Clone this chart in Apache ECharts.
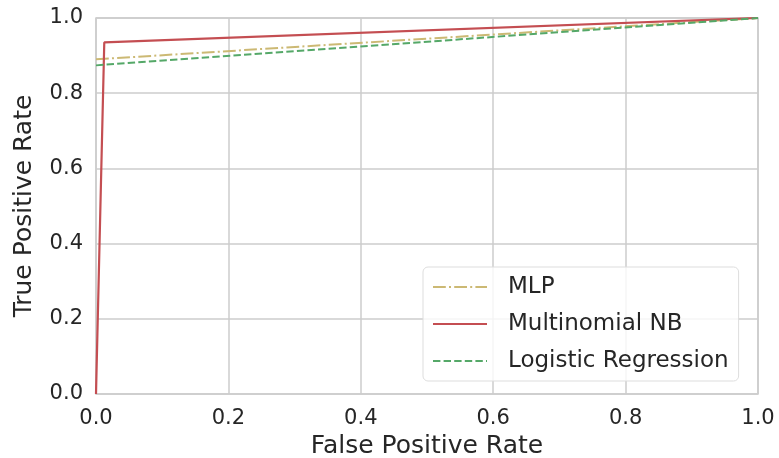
<!DOCTYPE html>
<html>
<head>
<meta charset="utf-8">
<script src="https://cdn.jsdelivr.net/npm/echarts@6/dist/echarts.min.js"></script>
<style>
  html, body { margin: 0; padding: 0; background: #fff; }
  #chart { width: 779px; height: 458px; }
</style>
</head>
<body>
<div id="chart"></div>
<script>
// 数据：ROC 曲线的点 [FPR, TPR]
var seriesNames = ['MLP', 'Multinomial NB', 'Logistic Regression'];
var mlpPoints = [[0, 0.89], [1, 1]];
var nbPoints = [[0, 0], [0.0125, 0.935], [1, 1]];
var lrPoints = [[0, 0.874], [1, 1]];
var tickValues = [0, 0.2, 0.4, 0.6, 0.8, 1.0];

var chart = echarts.init(document.getElementById('chart'));
var font = 'DejaVu Sans';
var textColor = '#262626';

var option = {
  animation: false,
  grid: {
    left: 96, right: 21, top: 18, bottom: 64,
    outerBoundsMode: 'none',
    show: true, borderColor: '#cccccc', borderWidth: 1.5
  },
  // 图例
  legend: {
    data: seriesNames,
    orient: 'vertical',
    left: 423, top: 267,
    itemWidth: 54, itemHeight: 14, itemGap: 11,
    padding: [7, 10, 7, 9],
    itemStyle: { opacity: 0 },
    backgroundColor: 'rgba(255,255,255,0.8)',
    borderColor: '#dddddd', borderWidth: 1, borderRadius: 5,
    textStyle: { fontFamily: font, fontSize: 23, color: textColor, lineHeight: 26, padding: [0, 0, 0, 16] }
  },
  xAxis: {
    type: 'value', min: 0, max: 1, interval: 0.2,
    name: 'False Positive Rate', nameLocation: 'middle', nameGap: 37,
    nameTextStyle: { fontFamily: font, fontSize: 25, color: textColor },
    axisLine: { show: false }, axisTick: { show: false },
    axisLabel: { fontFamily: font, fontSize: 21, color: textColor, margin: 14,
      formatter: function (v) { return v.toFixed(1); } },
    splitLine: { lineStyle: { color: '#cccccc', width: 1.5 } }
  },
  yAxis: {
    type: 'value', min: 0, max: 1, interval: 0.2,
    name: 'True Positive Rate', nameLocation: 'middle', nameGap: 59,
    nameTextStyle: { fontFamily: font, fontSize: 25, color: textColor },
    axisLine: { show: false }, axisTick: { show: false },
    axisLabel: { fontFamily: font, fontSize: 21, color: textColor, margin: 13,
      formatter: function (v) { return v.toFixed(1); } },
    splitLine: { lineStyle: { color: '#cccccc', width: 1.5 } }
  },
  series: [{
    name: seriesNames[0], type: 'line', data: mlpPoints, symbol: 'none',
    color: '#ccb974',
    lineStyle: { width: 2, color: '#ccb974', type: [12.8, 3.2, 2, 3.2] }
  }, {
    name: seriesNames[1], type: 'line', data: nbPoints, symbol: 'none',
    color: '#c44e52',
    lineStyle: { width: 2.2, color: '#c44e52' }
  }, {
    name: seriesNames[2], type: 'line', data: lrPoints, symbol: 'none',
    color: '#55a868',
    lineStyle: { width: 2, color: '#55a868', type: [7.4, 3.2] }
  }]
};
chart.setOption(option);
</script>
</body>
</html>
